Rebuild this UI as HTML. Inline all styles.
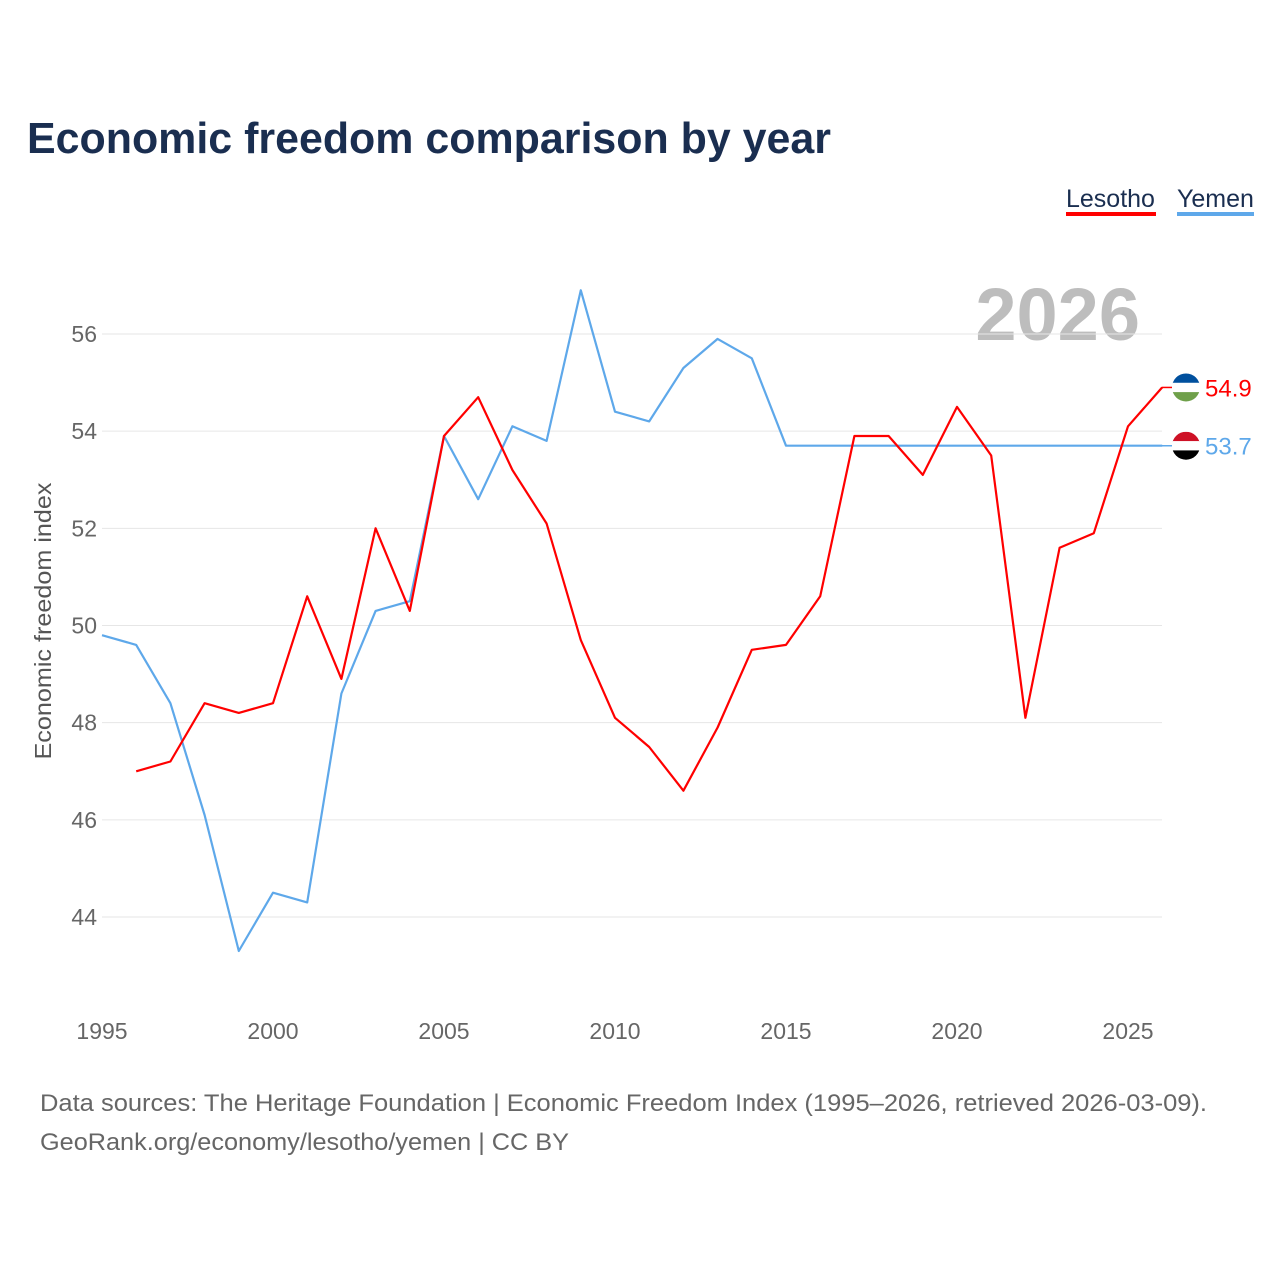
<!DOCTYPE html>
<html><head><meta charset="utf-8"><style>
body{margin:0;background:#fff;font-family:"Liberation Sans",sans-serif}
</style></head><body>
<svg width="1280" height="1280" xmlns="http://www.w3.org/2000/svg" id="chart">
<text x="27" y="153" font-size="44" font-weight="bold" fill="#1a2e50" textLength="804" lengthAdjust="spacingAndGlyphs">Economic freedom comparison by year</text>
<g>
<g><text x="1066" y="207" font-size="25" fill="#1a2e50">Lesotho</text><rect x="1066" y="212" width="90" height="4" fill="#ff0000"/></g>
<g><text x="1177" y="207" font-size="25" fill="#1a2e50">Yemen</text><rect x="1177" y="212" width="77" height="4" fill="#5ea8ea"/></g>
</g>
<text x="1140" y="340" text-anchor="end" font-size="74" font-weight="bold" fill="#bdbdbd">2026</text>
<g id="grid"></g><g id="series"></g><g id="axes"></g>
<text transform="translate(51,621) rotate(-90)" text-anchor="middle" font-size="23" fill="#555" textLength="277" lengthAdjust="spacingAndGlyphs">Economic freedom index</text>
<g font-size="24" fill="#666">
<text x="40" y="1111" textLength="1167" lengthAdjust="spacingAndGlyphs">Data sources: The Heritage Foundation | Economic Freedom Index (1995–2026, retrieved 2026-03-09).</text>
<text x="40" y="1150" textLength="529" lengthAdjust="spacingAndGlyphs">GeoRank.org/economy/lesotho/yemen | CC BY</text>
</g>
</svg>
<script>
const yemenYears=[1995,1996,1997,1998,1999,2000,2001,2002,2003,2004,2005,2006,2007,2008,2009,2010,2011,2012,2013,2014,2015,2016,2017,2018,2019,2020,2021,2022,2023,2024,2025,2026];
const yemenValues=[49.8,49.6,48.4,46.1,43.3,44.5,44.3,48.6,50.3,50.5,53.9,52.6,54.1,53.8,56.9,54.4,54.2,55.3,55.9,55.5,53.7,53.7,53.7,53.7,53.7,53.7,53.7,53.7,53.7,53.7,53.7,53.7];
const lesothoYears=[1996,1997,1998,1999,2000,2001,2002,2003,2004,2005,2006,2007,2008,2009,2010,2011,2012,2013,2014,2015,2016,2017,2018,2019,2020,2021,2022,2023,2024,2025,2026];
const lesothoValues=[47.0,47.2,48.4,48.2,48.4,50.6,48.9,52.0,50.3,53.9,54.7,53.2,52.1,49.7,48.1,47.5,46.6,47.9,49.5,49.6,50.6,53.9,53.9,53.1,54.5,53.5,48.1,51.6,51.9,54.1,54.9];
const yTicks=[44,46,48,50,52,54,56];
const xTicks=[1995,2000,2005,2010,2015,2020,2025];
const NS="http://www.w3.org/2000/svg";
const X=y=>102+(y-1995)*(1026/30);
const Y=v=>917-(v-44)*(583/12);
function mk(tag,attrs,parent,text){const e=document.createElementNS(NS,tag);for(const k in attrs)e.setAttribute(k,attrs[k]);if(text!==undefined)e.textContent=text;parent.appendChild(e);return e;}
const grid=document.getElementById('grid'),axes=document.getElementById('axes'),series=document.getElementById('series');
yTicks.forEach(t=>{
 const l=mk('line',{x1:102,x2:1162,y1:Y(t),y2:Y(t),stroke:'#e6e6e6','stroke-width':1},grid);
 
 
 const tx=mk('text',{x:97,y:Y(t)+8,'text-anchor':'end','font-size':23,fill:'#666'},axes,String(t));
 
 
});
xTicks.forEach(t=>{
 const tx=mk('text',{x:X(t),y:1039,'text-anchor':'middle','font-size':23,fill:'#666'},axes,String(t));
 
 
});
function line(years,vals,color,name){
 const d=years.map((y,i)=>(i?'L':'M')+X(y).toFixed(1)+','+Y(vals[i]).toFixed(1)).join('');
 const p=mk('path',{d:d,fill:'none',stroke:color,'stroke-width':2.2,'stroke-linejoin':'round'},series);
 
 
}
line(yemenYears,yemenValues,'#5ea8ea','yemen-line');
line(lesothoYears,lesothoValues,'#ff0000','lesotho-line');
function endLabel(vals,color,colors,name){
 const v=vals[vals.length-1],cy=Y(v);
 const g=mk('g',{},series);
 
 
 mk('line',{x1:1162,x2:1172,y1:cy,y2:cy,stroke:color,'stroke-width':1.5},g);
 const cid='c'+name;
 const cp=mk('clipPath',{id:cid},g);mk('circle',{cx:1186,cy:cy,r:14},cp);
 const fg=mk('g',{'clip-path':'url(#'+cid+')'},g);
 colors.forEach((c,i)=>mk('rect',{x:1172,y:cy-14+i*28/3,width:28,height:28/3+0.5,fill:c},fg));
 mk('text',{x:1205,y:cy+9,'font-size':24,fill:color},g,v.toFixed(1));
}
endLabel(lesothoValues,'#ff0000',['#00509e','#ffffff','#6fa04a'],'lesotho-end-label');
endLabel(yemenValues,'#5ea8ea',['#ce1126','#ffffff','#000000'],'yemen-end-label');
</script>
</body></html>
